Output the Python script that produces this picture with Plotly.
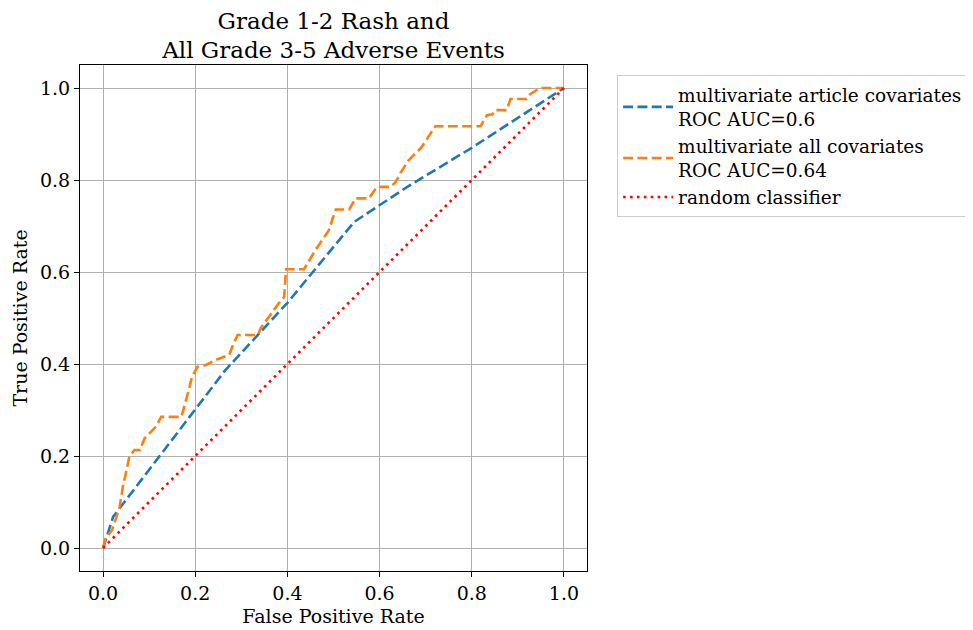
import plotly.graph_objects as go

# Data
article_fpr = [0.0, 0.022, 0.264, 0.40, 0.545, 0.60, 0.66, 0.80, 1.0]
article_tpr = [0.0, 0.068, 0.385, 0.533, 0.709, 0.745, 0.785, 0.87, 1.0]

all_fpr = [0, 0.005, 0.02, 0.036, 0.043, 0.05, 0.057, 0.068, 0.08, 0.09, 0.1, 0.115,
           0.126, 0.17, 0.184, 0.193, 0.205, 0.223, 0.245, 0.274, 0.28, 0.292, 0.336,
           0.342, 0.382, 0.393, 0.397, 0.436, 0.461, 0.49, 0.497, 0.505, 0.534, 0.548,
           0.577, 0.594, 0.624, 0.635, 0.645, 0.663, 0.69, 0.721, 0.819, 0.833, 0.845,
           0.851, 0.876, 0.884, 0.919, 0.927, 0.948, 1.0]
all_tpr = [0, 0.02, 0.04, 0.089, 0.133, 0.166, 0.198, 0.213, 0.213, 0.238, 0.249, 0.264,
           0.285, 0.285, 0.336, 0.372, 0.394, 0.398, 0.409, 0.42, 0.437, 0.463, 0.463,
           0.478, 0.533, 0.546, 0.606, 0.606, 0.648, 0.691, 0.713, 0.736, 0.736, 0.76,
           0.76, 0.785, 0.785, 0.796, 0.815, 0.843, 0.87, 0.917, 0.917, 0.941, 0.943,
           0.952, 0.952, 0.976, 0.976, 0.987, 1.0, 1.0]

random_x = [0, 1]
random_y = [0, 1]

names = ["multivariate article covariates<br>ROC AUC=0.6",
         "multivariate all covariates<br>ROC AUC=0.64",
         "random classifier"]
ticks = [0.0, 0.2, 0.4, 0.6, 0.8, 1.0]
tick_labels = ["0.0", "0.2", "0.4", "0.6", "0.8", "1.0"]

FONT = "DejaVu Serif"

fig = go.Figure()
fig.add_trace(go.Scatter(x=article_fpr, y=article_tpr, mode="lines", name=names[0],
                         line=dict(color="#1f77b4", width=2.6, dash="10px,4.3px")))
fig.add_trace(go.Scatter(x=all_fpr, y=all_tpr, mode="lines", name=names[1],
                         line=dict(color="#ff7f0e", width=2.6, dash="10px,4.3px")))
fig.add_trace(go.Scatter(x=random_x, y=random_y, mode="lines", name=names[2],
                         line=dict(color="red", width=2.6, dash="2.6px,4.3px")))

axis_common = dict(
    range=[-0.05, 1.05], tickvals=ticks, ticktext=tick_labels,
    showgrid=True, gridcolor="#b0b0b0", gridwidth=1.2,
    zeroline=False, showline=True, linecolor="black", linewidth=1.2, mirror=True,
    ticks="outside", ticklen=5, tickwidth=1.2, tickcolor="black",
    tickfont=dict(family=FONT, size=19, color="black"),
    automargin=False,
)

# The page body adds an 8px offset, so the figure is sized 965x622.
fig.update_layout(
    width=965, height=622,
    margin=dict(l=72, r=386, t=57, b=59, autoexpand=False),
    paper_bgcolor="white", plot_bgcolor="white",
    font=dict(family=FONT, size=19, color="black"),
    title=dict(text="Grade 1-2 Rash and<br>All Grade 3-5 Adverse Events",
               x=0.5, xref="paper", xanchor="center",
               y=0.967, yref="container", yanchor="top",
               font=dict(family=FONT, size=23, color="black")),
    xaxis=dict(title=dict(text="False Positive Rate", standoff=6,
                          font=dict(family=FONT, size=19)), **axis_common),
    yaxis=dict(title=dict(text="True Positive Rate", standoff=7,
                          font=dict(family=FONT, size=19)), **axis_common),
    legend=dict(x=1.059, y=0.98, xanchor="left", yanchor="top",
                bgcolor="white", bordercolor="#cccccc", borderwidth=1.2,
                font=dict(family=FONT, size=18.5, color="black"),
                itemwidth=50, tracegroupgap=0),
    showlegend=True,
)

fig.write_html("out.html")
